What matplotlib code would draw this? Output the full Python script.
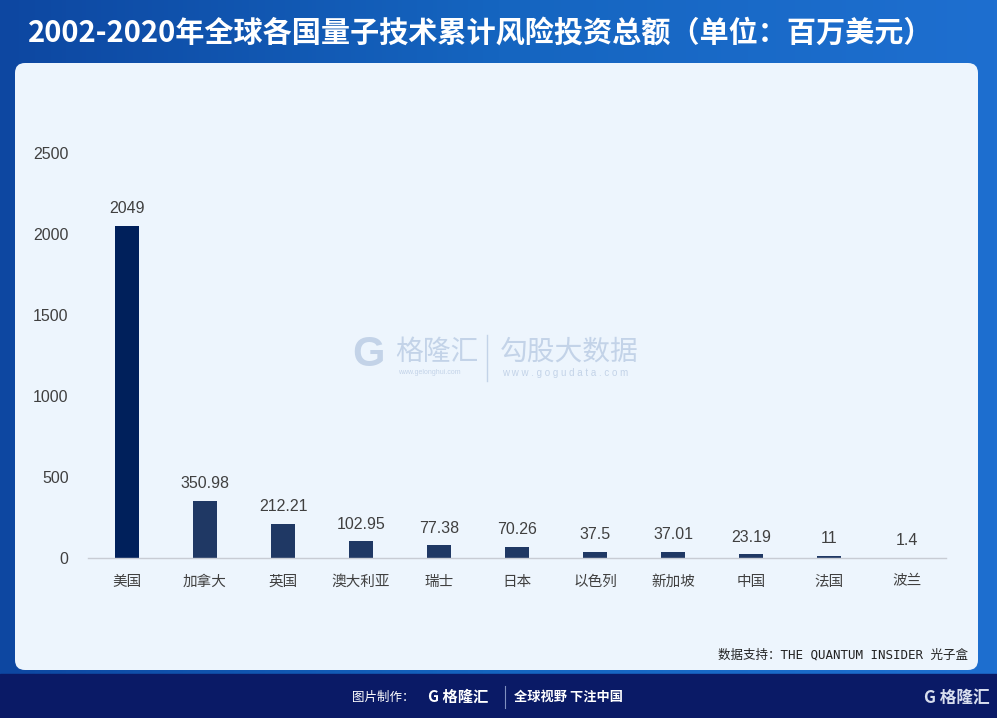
import numpy as np
import matplotlib.pyplot as plt
from matplotlib.patches import FancyBboxPatch, Rectangle

plt.rcParams['font.family'] = ['Liberation Sans', 'Noto Sans CJK SC', 'DejaVu Sans']

# data
countries = ['美国', '加拿大', '英国', '澳大利亚', '瑞士', '日本', '以色列', '新加坡', '中国', '法国', '波兰']
values = [2049, 350.98, 212.21, 102.95, 77.38, 70.26, 37.5, 37.01, 23.19, 11, 1.4]
value_labels = ['2049', '350.98', '212.21', '102.95', '77.38', '70.26', '37.5', '37.01', '23.19', '11', '1.4']
yticks = [0, 500, 1000, 1500, 2000, 2500]

W, H = 997, 718
fig = plt.figure(figsize=(W / 100, H / 100), dpi=100)

# background: blue gradient banner
bg = fig.add_axes([0, 0, 1, 1])
bg.set_xlim(0, W)
bg.set_ylim(H, 0)
bg.axis('off')
grad = np.linspace(0, 1, 256).reshape(1, -1)
bg.imshow(np.vstack([grad, grad]), extent=[0, W, H, 0], aspect='auto',
          cmap=plt.matplotlib.colors.LinearSegmentedColormap.from_list('b', ['#0D47A1', '#1565C0', '#1E6FD0']))
# bottom navy bar
bg.add_patch(Rectangle((0, 674), W, 44, color='#0A1A66', zorder=1))
# light panel
bg.add_patch(FancyBboxPatch((15, 63), 963, 607, boxstyle='round,pad=0,rounding_size=10',
                            fc='#EDF5FD', ec='none', zorder=2))

bg.text(28, 33, '2002-2020年全球各国量子技术累计风险投资总额（单位：百万美元）', color='white',
        fontsize=21, fontweight='bold', va='center', ha='left', family=['Noto Sans CJK SC'], zorder=3)

# watermark
bg.text(352, 355, 'G', color='#C3D3E8', fontsize=30, fontweight='bold', va='center', ha='left', zorder=3)
bg.text(395, 352, '格隆汇', color='#C3D3E8', fontsize=20, va='center', ha='left',
        family=['Noto Sans CJK SC'], zorder=3)
bg.text(398, 373, 'www.gelonghui.com', color='#C3D3E8', fontsize=5, va='center', ha='left', zorder=3)
bg.plot([487, 487], [335, 381], color='#C3D3E8', lw=1, zorder=3)
bg.text(500, 352, '勾股大数据', color='#C3D3E8', fontsize=20, va='center', ha='left',
        family=['Noto Sans CJK SC'], zorder=3)
bg.text(502, 373, 'w w w . g o g u d a t a . c o m', color='#C3D3E8', fontsize=7, va='center', ha='left', zorder=3)

# source
bg.text(968, 655, '数据支持：THE QUANTUM INSIDER 光子盒', color='#222222', fontsize=9,
        va='center', ha='right', family=['DejaVu Sans Mono', 'Noto Sans CJK SC'], zorder=3)

# footer
bg.text(352, 697, '图片制作：', color='white', fontsize=9, va='center', ha='left',
        family=['Noto Sans CJK SC'], zorder=3)
bg.text(428, 697, 'G 格隆汇', color='white', fontsize=11, fontweight='bold', va='center', ha='left',
        family=['Noto Sans CJK SC'], zorder=3)
bg.plot([505, 505], [686, 708], color='#8090C0', lw=0.8, zorder=3)
bg.text(514, 697, '全球视野 下注中国', color='white', fontsize=9.5, fontweight='bold', va='center', ha='left',
        family=['Noto Sans CJK SC'], zorder=3)
bg.text(990, 698, 'G 格隆汇', color='#D8DEEE', fontsize=12, fontweight='bold', va='center', ha='right',
        family=['Noto Sans CJK SC'], zorder=3)

# chart
ax = fig.add_axes([88 / W, (H - 558) / H, (946 - 88) / W, 405 / H])
ax.patch.set_alpha(0)
x = np.arange(len(countries))
colors = ['#00205B'] + ['#1F3864'] * (len(countries) - 1)
ax.bar(x, values, width=0.32, color=colors, zorder=2)
for xi, v, lab in zip(x, values, value_labels):
    ax.text(xi, v + 60, lab, ha='center', va='bottom', fontsize=11.5, color='#404040', clip_on=False)

ax.set_xlim(-0.5, len(countries) - 0.5)
ax.set_ylim(0, 2500)
ax.set_yticks(yticks)
ax.set_xticks(x)
ax.set_xticklabels(countries, family=['Noto Sans CJK SC'], fontsize=10.5, color='#404040')
ax.tick_params(axis='y', length=0, labelsize=11.5, labelcolor='#404040', pad=14)
ax.tick_params(axis='x', length=0, pad=12)
for s in ['top', 'right', 'left']:
    ax.spines[s].set_visible(False)
ax.spines['bottom'].set_color('#C8CCD4')
ax.spines['bottom'].set_linewidth(1)

fig.savefig('out.png', dpi=100)
